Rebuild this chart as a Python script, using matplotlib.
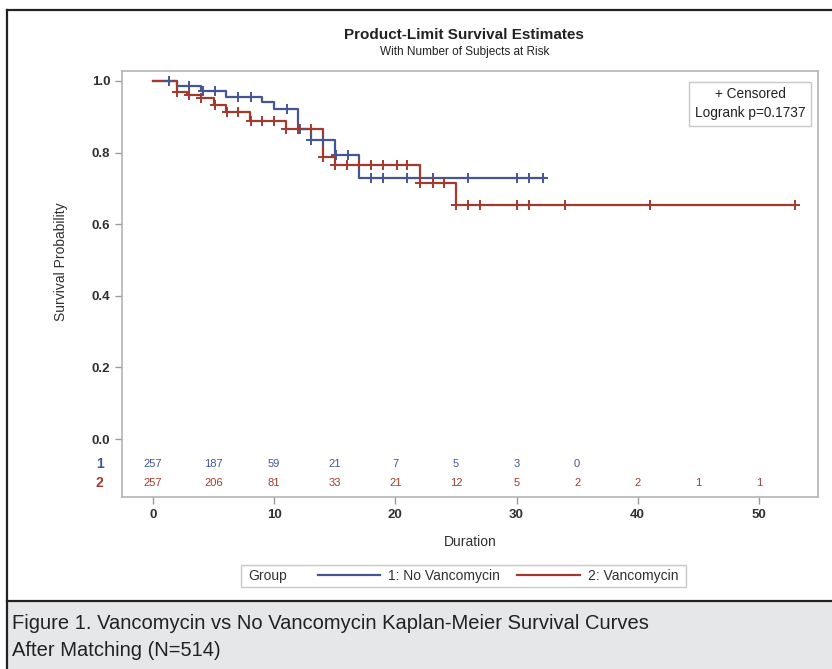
import numpy as np
import matplotlib
matplotlib.use('Agg')
import matplotlib.pyplot as plt
from matplotlib.lines import Line2D
from matplotlib.patches import Rectangle

plt.rcParams['font.family'] = ['Liberation Sans', 'DejaVu Sans']

# ── DATA ──
# step curves: time of each drop and survival after it
blue_times = [0, 2.0, 4.0, 6.0, 9.0, 10.0, 12.0, 13.0, 15.0, 17.0, 32.3]
blue_surv  = [1.0, 0.987, 0.973, 0.954, 0.940, 0.921, 0.866, 0.834, 0.793, 0.730, 0.730]
blue_cens  = [1.3, 3.0, 4.1, 5.1, 7.0, 8.1, 11.1, 12.1, 13.0, 14.0, 15.1, 16.1,
              18.0, 19.0, 21.0, 23.1, 26.0, 30.0, 31.0, 32.2]

red_times = [0, 2.0, 2.8, 4.0, 5.0, 6.0, 8.0, 11.0, 14.0, 15.0, 22.0, 25.0, 53.0]
red_surv  = [1.0, 0.970, 0.960, 0.952, 0.934, 0.913, 0.888, 0.867, 0.789, 0.765,
             0.714, 0.654, 0.654]
red_cens  = [2.0, 3.0, 4.0, 5.1, 6.1, 7.0, 8.1, 9.0, 10.0, 11.0, 12.0, 13.0, 14.0,
             15.0, 16.0, 17.0, 18.0, 19.0, 20.1, 21.0, 22.0, 23.1, 24.0, 25.0, 26.0,
             27.0, 30.0, 31.0, 34.0, 41.0, 53.0]

risk_times = [0, 5, 10, 15, 20, 25, 30, 35, 40, 45, 50]
risk_blue  = [257, 187, 59, 21, 7, 5, 3, 0]
risk_red   = [257, 206, 81, 33, 21, 12, 5, 2, 2, 1, 1]

x_ticks = [0, 10, 20, 30, 40, 50]
y_ticks = [0.0, 0.2, 0.4, 0.6, 0.8, 1.0]

BLUE = '#445694'
RED  = '#A23A2E'
TXT  = '#303030'


def surv_at(times, surv, t):
    idx = np.searchsorted(times, t, side='right') - 1
    return np.asarray(surv)[idx]


fig = plt.figure(figsize=(8.32, 6.69), dpi=100)

# ── outer frame + caption band ──
fig.add_artist(Rectangle((0.0084, 0), 1, 0.1016, transform=fig.transFigure,
                         facecolor='#e6e7e8', edgecolor='none', zorder=0))
fig.add_artist(Line2D([0.0084, 0.0084], [0, 0.985], transform=fig.transFigure,
                      color='#222222', lw=1.6))
fig.add_artist(Line2D([0.0084, 1], [0.985, 0.985], transform=fig.transFigure,
                      color='#222222', lw=1.6))
fig.add_artist(Line2D([0.0084, 1], [0.1016, 0.1016], transform=fig.transFigure,
                      color='#222222', lw=1.6))

fig.text(0.015, 0.068, 'Figure 1. Vancomycin vs No Vancomycin Kaplan-Meier Survival Curves',
         fontsize=14.5, color='#222222', va='center', ha='left')
fig.text(0.015, 0.027, 'After Matching (N=514)',
         fontsize=14.5, color='#222222', va='center', ha='left')

# ── main axes ──
ax = fig.add_axes([0.1466, 0.257, 0.8364, 0.637])
ax.set_xlim(-2.56, 54.87)
ax.set_ylim(-0.162, 1.028)

ax.step(blue_times, blue_surv, where='post', color=BLUE, lw=1.6)
ax.step(red_times, red_surv, where='post', color=RED, lw=1.6)
ax.plot(blue_cens, surv_at(blue_times, blue_surv, blue_cens), '+', color=BLUE,
        ms=7, mew=1.4)
ax.plot(red_cens, surv_at(red_times, red_surv, red_cens), '+', color=RED,
        ms=7, mew=1.4)

# at-risk table
for t, n in zip(risk_times, risk_blue):
    ax.text(t, -0.07, str(n), color=BLUE, fontsize=8, ha='center', va='center')
for t, n in zip(risk_times, risk_red):
    ax.text(t, -0.122, str(n), color=RED, fontsize=8, ha='center', va='center')
ax.text(-0.032, -0.07, '1', color=BLUE, fontsize=10, ha='center', va='center',
        fontweight='bold', transform=ax.get_yaxis_transform())
ax.text(-0.032, -0.122, '2', color=RED, fontsize=10, ha='center', va='center',
        fontweight='bold', transform=ax.get_yaxis_transform())

ax.set_xticks(x_ticks)
ax.set_yticks(y_ticks)
ax.set_yticklabels([f'{v:.1f}' for v in y_ticks])
ax.tick_params(colors='#9a9a9a', labelcolor=TXT, labelsize=9.5, length=5, width=1)
for lab in ax.get_xticklabels() + ax.get_yticklabels():
    lab.set_fontweight('bold')
for sp in ax.spines.values():
    sp.set_color('#b4b4b4')
    sp.set_linewidth(1.2)

ax.set_xlabel('Duration', fontsize=10, color=TXT, labelpad=10)
ax.set_ylabel('Survival Probability', fontsize=10, color=TXT)
ax.yaxis.set_label_coords(-0.078, 0.552)

# inset legend
ax.text(0.982, 0.962, '+ Censored\nLogrank p=0.1737', transform=ax.transAxes,
        ha='right', va='top', fontsize=9.8, color='#222222', linespacing=1.45,
        multialignment='center',
        bbox=dict(boxstyle='square,pad=0.4', fc='white', ec='#c8c8c8', lw=1))

# titles
fig.text(0.558, 0.948, 'Product-Limit Survival Estimates', ha='center', va='center',
         fontsize=11, fontweight='bold', color='#222222')
fig.text(0.558, 0.922, 'With Number of Subjects at Risk', ha='center', va='center',
         fontsize=8.5, color='#222222')

# group legend
fig.add_artist(Rectangle((241 / 832, 1 - 587 / 669), 445 / 832, 22 / 669,
                         transform=fig.transFigure, fc='white', ec='#c8c8c8', lw=1))
fig.text(248 / 832, 1 - 576 / 669, 'Group', ha='left', va='center', fontsize=10,
         color=TXT)
handles = [Line2D([], [], color=BLUE, lw=1.6), Line2D([], [], color=RED, lw=1.6)]
fig.legend(handles, ['1: No Vancomycin', '2: Vancomycin'], ncol=2, frameon=False,
           loc='center', bbox_to_anchor=(498 / 832, 1 - 576 / 669), fontsize=10,
           handlelength=4.5, columnspacing=1.2, handletextpad=0.6, labelcolor=TXT)

fig.savefig('out.png', dpi=100)
